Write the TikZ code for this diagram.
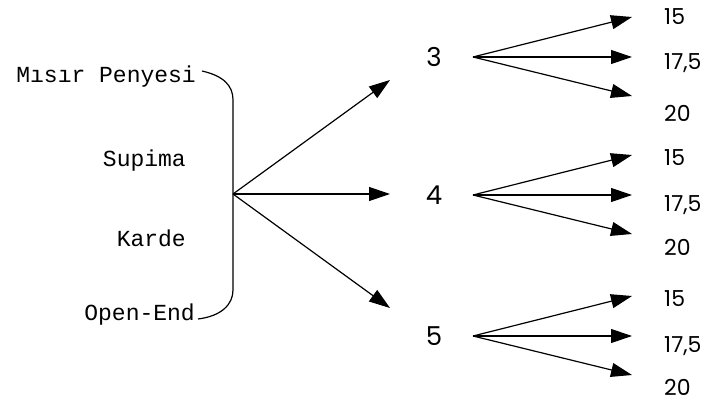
\documentclass[tikz,border=0pt]{standalone}
\usepackage{fontspec}
\setmainfont{Poppins}
\newfontfamily\labelfont{Liberation Mono}
\newfontfamily\numfont{Poppins}
\usetikzlibrary{arrows.meta}
\tikzset{
  conn/.style={line width=1.2pt, -{Triangle[length=21pt,width=14pt]}},
  brace/.style={line width=1.2pt},
  kind/.style={font=\labelfont\fontsize{23}{23}\selectfont, anchor=east, inner sep=0pt},
  level/.style={font=\numfont\fontsize{26}{26}\selectfont, inner sep=0pt},
  value/.style={font=\numfont\fontsize{22}{22}\selectfont, anchor=west, inner sep=0pt},
}
\begin{document}
\begin{tikzpicture}[x=1pt,y=-1pt]
  \useasboundingbox (0,0) rectangle (714,403);

  % fibre types
  \node[kind] (k1) at (196,77) {Mısır Penyesi};
  \node[kind] (k2) at (186,161) {Supima};
  \node[kind] (k3) at (186,238) {Karde};
  \node[kind] (k4) at (195,315) {Open-End};

  % brace grouping the types
  \coordinate (bt) at (202,71);
  \coordinate (bb) at (198,319);
  \coordinate (hub) at (233,194);
  \draw[brace] (bt) .. controls (224,76) and (233,86) .. (233,100)
     -- (233,290) .. controls (233,304) and (222,316) .. (bb);

  % levels
  \node[level] (n3) at (434,57) {3};
  \node[level] (n4) at (434,195) {4};
  \node[level] (n5) at (434,336) {5};

  \coordinate (t3) at (390,80);
  \coordinate (t4) at (390,194);
  \coordinate (t5) at (390,308);
  \draw[conn] (hub) -- (t3);
  \draw[conn] (hub) -- (t4);
  \draw[conn] (hub) -- (t5);

  % fans with values
  \foreach \n/\y/\ya/\yb/\yc in {3/57/17/63/113, 4/195/158/205/247, 5/336/299/346/387}{
    \coordinate (o\n) at (473,\y);
    \coordinate (a\n) at (632,\y-40);
    \coordinate (b\n) at (632,\y);
    \coordinate (c\n) at (632,\y+39);
    \draw[conn] (o\n) -- (a\n);
    \draw[conn] (o\n) -- (b\n);
    \draw[conn] (o\n) -- (c\n);
    \node[value] (va\n) at (664,\ya) {15};
    \node[value] (vb\n) at (664,\yb) {17,5};
    \node[value] (vc\n) at (664,\yc) {20};
  }
\end{tikzpicture}
\end{document}
